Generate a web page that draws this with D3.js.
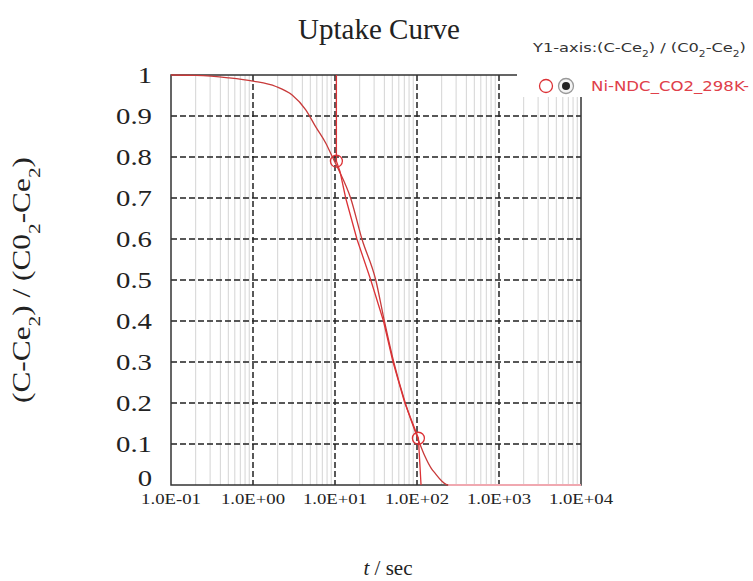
<!DOCTYPE html>
<html><head><meta charset="utf-8">
<script src="https://cdn.jsdelivr.net/npm/d3@7/dist/d3.min.js"></script>
<style>body{margin:0;background:#fff;} svg{display:block;}</style>
</head><body>
<script>
// ---- data ----
const xTickValues = [0.1, 1, 10, 100, 1000, 10000];
const xTickLabels = ["1.0E-01", "1.0E+00", "1.0E+01", "1.0E+02", "1.0E+03", "1.0E+04"];
const yTickValues = [0, 0.1, 0.2, 0.3, 0.4, 0.5, 0.6, 0.7, 0.8, 0.9, 1];
const yTickLabels = ["0", "0.1", "0.2", "0.3", "0.4", "0.5", "0.6", "0.7", "0.8", "0.9", "1"];

// model (fitted) curve
const modelT = [0.1, 0.2, 0.5, 1, 1.9, 3.0, 4.4, 5.8, 7.7, 9.3, 11, 15.5, 21.3, 31.4, 40, 52, 72, 104, 125, 150, 166, 200, 240, 1000, 10000];
const modelV = [1.0, 0.999, 0.993, 0.985, 0.972, 0.951, 0.915, 0.874, 0.834, 0.80, 0.77, 0.70, 0.60, 0.50, 0.40, 0.30, 0.20, 0.11, 0.07, 0.04, 0.029, 0.01, 0.0, 0.0, 0.0];

// measured curve
const dataT = [10.4, 10.4, 11.5, 13.5, 18.5, 27.3, 39, 51, 71, 104, 112];
const dataV = [1.0, 0.79, 0.765, 0.70, 0.60, 0.50, 0.40, 0.30, 0.20, 0.114, 0.0];

// marked points of the measured curve
const markerT = [10.4, 104];
const markerV = [0.79, 0.114];

const chartTitle = "Uptake Curve";
const seriesName = "Ni-NDC_CO2_298K-";

// ---- drawing ----
const W = 753, H = 581;
const svg = d3.select("body").append("svg").attr("width", W).attr("height", H);
const x = d3.scaleLog().domain([0.1, 10000]).range([171, 581]);
const y = d3.scaleLinear().domain([0, 1]).range([485, 75]);
const [x0, x1] = x.range(), [y0, y1] = y.range();
const red = "#dc3236";
const serif = "'Liberation Serif', 'Times New Roman', serif";
const sans = "'DejaVu Sans', Verdana, sans-serif";

// minor vertical grid
const minor = x.ticks().filter(t => Math.abs(Math.log10(t) - Math.round(Math.log10(t))) > 1e-6);
svg.append("g").selectAll("line").data(minor).join("line")
  .attr("x1", d => x(d)).attr("x2", d => x(d)).attr("y1", y1).attr("y2", y0)
  .attr("stroke", "#d4d4d4").attr("stroke-width", 1);

// major dashed grid
svg.append("g").selectAll("line").data(xTickValues.slice(1, -1)).join("line")
  .attr("x1", d => x(d)).attr("x2", d => x(d)).attr("y1", y1).attr("y2", y0)
  .attr("stroke", "#222").attr("stroke-width", 1.5).attr("stroke-dasharray", "6,3");
svg.append("g").selectAll("line").data(yTickValues.slice(1, -1)).join("line")
  .attr("x1", x0).attr("x2", x1).attr("y1", d => y(d)).attr("y2", d => y(d))
  .attr("stroke", "#222").attr("stroke-width", 1.5).attr("stroke-dasharray", "6,3");

// frame
svg.append("rect").attr("x", x0).attr("y", y1).attr("width", x1 - x0).attr("height", y0 - y1)
  .attr("fill", "none").attr("stroke", "#333").attr("stroke-width", 1.5);

// curves
const lineM = d3.line().x(d => x(d[0])).y(d => y(d[1])).curve(d3.curveMonotoneX);
const modelPts = modelT.map((t, i) => [t, modelV[i]]);
svg.append("path").datum(modelPts)
  .attr("d", lineM).attr("fill", "none").attr("stroke", "#c83a3a").attr("stroke-width", 1.3);
// flat tail of the model along the axis appears pale in the reference
svg.append("path").datum(modelPts.filter(d => d[1] === 0))
  .attr("d", lineM).attr("fill", "none").attr("stroke", "#f0a8b0").attr("stroke-width", 2);
const lineD = d3.line().x(d => x(d[0])).y(d => y(d[1]));
svg.append("path").datum(dataT.map((t, i) => [t, dataV[i]]))
  .attr("d", lineD).attr("fill", "none").attr("stroke", red).attr("stroke-width", 1.3);
svg.append("g").selectAll("circle").data(markerT.map((t, i) => [t, markerV[i]])).join("circle")
  .attr("cx", d => x(d[0])).attr("cy", d => y(d[1])).attr("r", 6)
  .attr("fill", "none").attr("stroke", red).attr("stroke-width", 1.3);

// tick labels (horizontally stretched serif)
const sx = 1.25;
svg.append("g").selectAll("text").data(xTickValues).join("text")
  .attr("transform", d => `translate(${x(d)},504) scale(${sx},1)`)
  .attr("text-anchor", "middle").attr("font-family", serif).attr("font-size", 15).attr("fill", "#222")
  .text((d, i) => xTickLabels[i]);
svg.append("g").selectAll("text").data(yTickValues).join("text")
  .attr("transform", d => `translate(152,${d === 0 ? y(d) - 7 : y(d)}) scale(${sx},1)`)
  .attr("text-anchor", "end").attr("dy", "0.35em").attr("font-family", serif).attr("font-size", 23).attr("fill", "#222")
  .text((d, i) => yTickLabels[i]);

// titles
svg.append("text").attr("x", 379).attr("y", 39).attr("text-anchor", "middle")
  .attr("font-family", serif).attr("font-size", 29).attr("fill", "#222").text(chartTitle);

const xt = svg.append("text").attr("x", 388).attr("y", 575).attr("text-anchor", "middle")
  .attr("font-family", serif).attr("font-size", 21).attr("fill", "#222");
xt.append("tspan").attr("font-style", "italic").text("t");
xt.append("tspan").text(" / sec");

function subText(sel, parts, subSize) {
  parts.forEach(p => {
    if (p.sub) sel.append("tspan").attr("font-size", subSize).attr("baseline-shift", "sub").text(p.t);
    else sel.append("tspan").text(p.t);
  });
}
const yParts = [{t: "(C-Ce"}, {t: "2", sub: true}, {t: ") / (C0"}, {t: "2", sub: true}, {t: "-Ce"}, {t: "2", sub: true}, {t: ")"}];
const yt = svg.append("text").attr("transform", "translate(30,280) rotate(-90)").attr("text-anchor", "middle")
  .attr("font-family", serif).attr("font-size", 25).attr("fill", "#222")
  .attr("textLength", 246).attr("lengthAdjust", "spacingAndGlyphs");
subText(yt, yParts, 17);

// legend box
svg.append("rect").attr("x", 517).attr("y", 28).attr("width", W - 517).attr("height", 69).attr("fill", "#fff");
const lt = svg.append("text").attr("transform", "translate(533,52) scale(1.25,1)")
  .attr("font-family", sans).attr("font-size", 13).attr("fill", "#333");
subText(lt, [{t: "Y1-axis:(C-Ce"}, {t: "2", sub: true}, {t: ") / (C0"}, {t: "2", sub: true}, {t: "-Ce"}, {t: "2", sub: true}, {t: ")"}], 8.5);
svg.append("circle").attr("cx", 546).attr("cy", 86).attr("r", 6.5).attr("fill", "none").attr("stroke", red).attr("stroke-width", 1.3);
svg.append("circle").attr("cx", 566).attr("cy", 86).attr("r", 7.5).attr("fill", "#f4f4f4").attr("stroke", "#999").attr("stroke-width", 1.3);
svg.append("circle").attr("cx", 566).attr("cy", 86).attr("r", 4).attr("fill", "#222");
svg.append("text").attr("x", 591).attr("y", 91)
  .attr("font-family", sans).attr("font-size", 13.5).attr("fill", "#e0404a")
  .attr("textLength", 158).attr("lengthAdjust", "spacingAndGlyphs").text(seriesName);
</script>
</body></html>
